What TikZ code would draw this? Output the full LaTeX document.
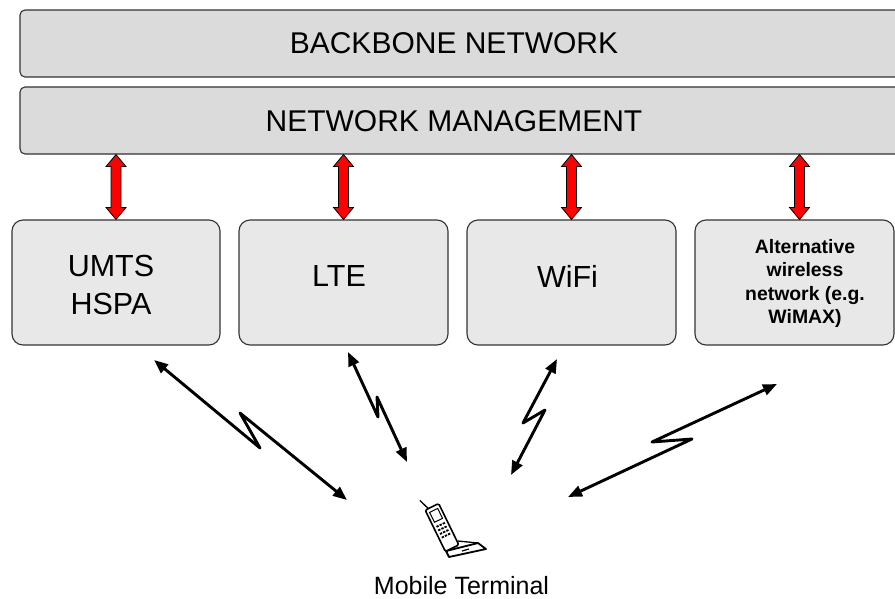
\documentclass[tikz,border=0pt]{standalone}
\usepackage{fontspec}
\setmainfont{Liberation Sans}
\usetikzlibrary{calc, arrows.meta}

\tikzset{
  topbox/.style={draw=black!80, line width=1.1pt, fill=black!14, rounded corners=5pt,
    minimum width=885pt, minimum height=67pt, inner sep=0pt},
  netbox/.style={draw=black!80, line width=1.1pt, fill=black!9, rounded corners=11pt,
    minimum height=125pt, inner sep=0pt},
  bigtext/.style={font=\fontsize{30}{36}\selectfont},
  nettext/.style={font=\fontsize{30.5}{38}\selectfont, align=center},
  smalltext/.style={font=\fontsize{19.4}{23.3}\selectfont\bfseries, align=center},
  linkarrow/.style={draw=black, fill=red, line width=0.8pt},
  radiolink/.style={line width=2.9pt, line join=round,
    {Triangle[length=14pt,width=11pt]}-{Triangle[length=14pt,width=11pt]}},
}

\begin{document}
\begin{tikzpicture}[x=1pt, y=-1pt]
  \clip (0,0) rectangle (895,598);

  % core layers
  \node[topbox, label={[bigtext, xshift=-8.5pt]center:{BACKBONE NETWORK}}] (backbone) at (462.5,43.5) {};
  \node[topbox, label={[bigtext, xshift=-8.5pt, yshift=-1pt]center:{NETWORK MANAGEMENT}}] (nm) at (462.5,120.5) {};

  % access networks
  \node[netbox, minimum width=208pt, label={[nettext, xshift=-5pt, yshift=-2.5pt]center:{UMTS\\HSPA}}] (umts) at (116,282.5) {};
  \node[netbox, minimum width=209pt, label={[nettext, xshift=-4.5pt, yshift=6.5pt]center:{LTE}}] (lte) at (343.5,282.5) {};
  \node[netbox, minimum width=209pt, label={[nettext, xshift=-4pt, yshift=6.5pt]center:{WiFi}}] (wifi) at (571.5,282.5) {};
  \node[netbox, minimum width=199pt, label={[smalltext, xshift=10.5pt, yshift=-1pt]center:{Alternative\\wireless\\network (e.g.\\WiMAX)}}] (alt) at (794.5,282.5) {};

  % red links to network management
  \foreach \net/\dx in {umts/0, lte/0, wifi/0, alt/5} {
    \coordinate (top-\net) at ($(nm.south -| \net.north)+(\dx,0)$);
    \coordinate (bot-\net) at ($(\net.north)+(\dx,0)$);
    \draw[linkarrow] (top-\net) -- ++(10,12) -- ++(-5,0) -- ($(bot-\net)+(5,-12)$) -- ++(5,0)
      -- (bot-\net) -- ++(-10,-12) -- ++(5,0) -- ($(top-\net)+(-5,12)$) -- ++(-5,0) -- cycle;
  }

  % mobile terminal
  \draw[line width=1.8pt, fill=white, line join=round] (446,551) -- (478,543) -- (486,549) -- (449,557) -- cycle;
  \draw[line width=1.2pt] (462,551) -- (469,549);
  \draw[line width=1.3pt] (458,541) -- (478,543);
  \begin{scope}[shift={(442,527.5)}, rotate=26]
    \draw[line width=1.3pt] (-4,-23) -- (-8,-34);
    \draw[line width=1.6pt, fill=white, rounded corners=1.5pt] (-7.5,-23) rectangle (7.5,23);
    \draw[line width=1pt] (-4.5,-19) rectangle (4.5,-8);
    \foreach \i in {-3.5,0,3.5}
      \foreach \j in {-3,1,5,9}
        \fill (\i-1.2,\j-0.9) rectangle (\i+1.2,\j+0.9);
  \end{scope}
  \node[font=\fontsize{25}{30}\selectfont, anchor=base] (mt) at (461.5,594) {Mobile Terminal};

  % radio links
  \coordinate (air-umts) at (154,360);  \coordinate (mt-umts) at (347,500);
  \coordinate (air-lte) at (348,352);   \coordinate (mt-lte) at (407,462);
  \coordinate (air-wifi) at (557,359);  \coordinate (mt-wifi) at (511,475);
  \coordinate (air-alt) at (777,384);   \coordinate (mt-alt) at (568,497);
  \draw[radiolink] (air-umts) -- (260,448) -- (240,413) -- (mt-umts);
  \draw[radiolink] (air-lte) -- (378,417) -- (377,397) -- (mt-lte);
  \draw[radiolink] (air-wifi) -- (523,423) -- (545,410) -- (mt-wifi);
  \draw[radiolink] (air-alt) -- (652,442) -- (692,439) -- (mt-alt);
\end{tikzpicture}
\end{document}
